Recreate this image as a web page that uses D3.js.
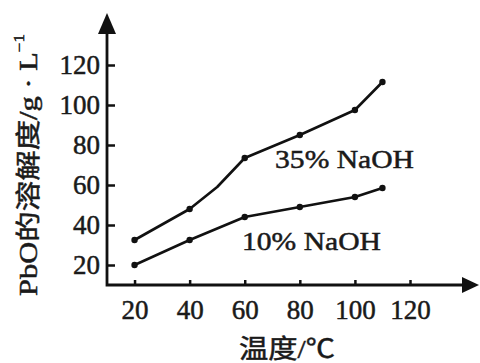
<!DOCTYPE html>
<html>
<head>
<meta charset="utf-8">
<script src="https://cdn.jsdelivr.net/npm/d3@7"></script>
<style>
  html, body { margin: 0; padding: 0; background: #fff; }
  svg { display: block; }
  text { font-family: "Liberation Serif", "Noto Sans CJK SC", serif; fill: #1a1a1a; stroke: #1a1a1a; stroke-width: 0.5px; }
</style>
</head>
<body>
<div id="chart"></div>
<script>
// temperatures (°C) with markers
var temps = [20, 40, 60, 80, 100, 110];
// 35% NaOH curve has an extra bend at 50 °C (no marker there)
var temps35 = [20, 40, 50, 60, 80, 100, 110];
var naoh35 = [32.5, 48, 59, 73.5, 85, 97.5, 111.5];
var naoh10 = [20, 32.5, 44, 49, 54, 58.5];
var xTicks = [20, 40, 60, 80, 100, 120];
var yTicks = [20, 40, 60, 80, 100, 120];

var width = 480, height = 363;

var svg = d3.select("#chart").append("svg")
  .attr("width", width)
  .attr("height", height);

// scales: both axes start at 10
var x = d3.scaleLinear().domain([10, 120]).range([107, 410]);
var y = d3.scaleLinear().domain([10, 120]).range([285, 65]);

// x axis
var xAxis = svg.append("g")
  .attr("transform", "translate(0," + y(10) + ")")
  .call(d3.axisBottom(x).tickValues(xTicks).tickSize(-5).tickPadding(15));
xAxis.select(".domain").remove();
xAxis.selectAll("line").attr("stroke", "#111").attr("stroke-width", 2.5);
xAxis.selectAll("text").attr("font-size", 27).attr("fill", "#1a1a1a")
  .style("font-family", "Liberation Serif");

// y axis
var yAxis = svg.append("g")
  .attr("transform", "translate(" + x(10) + ",0)")
  .call(d3.axisLeft(y).tickValues(yTicks).tickSize(-8).tickPadding(7));
yAxis.select(".domain").remove();
yAxis.selectAll("line").attr("stroke", "#111").attr("stroke-width", 2.5);
yAxis.selectAll("text").attr("font-size", 27).attr("fill", "#1a1a1a")
  .style("font-family", "Liberation Serif");

// axis lines with arrows
var x0 = x(10), y0 = y(10);
svg.append("path")
  .attr("d", "M" + x0 + "," + 31 + "V" + y0 + "H" + 465)
  .attr("fill", "none").attr("stroke", "#111").attr("stroke-width", 2.8);
svg.append("path")
  .attr("d", "M" + x0 + ",13L" + (x0 - 9) + ",34L" + (x0 + 9) + ",34Z")
  .attr("fill", "#111");
svg.append("path")
  .attr("d", "M479," + y0 + "L462," + (y0 - 8) + "L462," + (y0 + 8) + "Z")
  .attr("fill", "#111");

// lines
var line = d3.line().x(d => x(d[0])).y(d => y(d[1]));
var s35 = temps35.map((t, i) => [t, naoh35[i]]);
var s10 = temps.map((t, i) => [t, naoh10[i]]);

[s35, s10].forEach(function (s) {
  svg.append("path")
    .attr("d", line(s))
    .attr("fill", "none")
    .attr("stroke", "#111")
    .attr("stroke-width", 2.6)
    .attr("stroke-linejoin", "round");
  svg.selectAll(null)
    .data(s.filter(d => temps.indexOf(d[0]) >= 0))
    .enter().append("circle")
    .attr("cx", d => x(d[0]))
    .attr("cy", d => y(d[1]))
    .attr("r", 3.2)
    .attr("fill", "#111");
});

// series labels
svg.append("text")
  .attr("x", x(71)).attr("y", y(68.5))
  .attr("font-size", 26)
  .attr("textLength", 139).attr("lengthAdjust", "spacingAndGlyphs")
  .text("35% NaOH");
svg.append("text")
  .attr("x", x(59)).attr("y", y(27.5))
  .attr("font-size", 26)
  .attr("textLength", 139).attr("lengthAdjust", "spacingAndGlyphs")
  .text("10% NaOH");

// axis titles
svg.append("text")
  .attr("x", 287).attr("y", 358)
  .attr("text-anchor", "middle")
  .attr("font-size", 26)
  .attr("textLength", 96).attr("lengthAdjust", "spacingAndGlyphs")
  .text("温度/℃");

var yt = svg.append("text")
  .attr("transform", "translate(28,165) rotate(-90)")
  .attr("text-anchor", "middle")
  .attr("dy", "0.35em")
  .attr("font-size", 25)
  .attr("textLength", 262).attr("lengthAdjust", "spacingAndGlyphs");
yt.append("tspan").text("PbO的溶解度/g · L");
yt.append("tspan").attr("font-size", 14).attr("dy", "-0.9em").text("−1");
</script>
</body>
</html>
